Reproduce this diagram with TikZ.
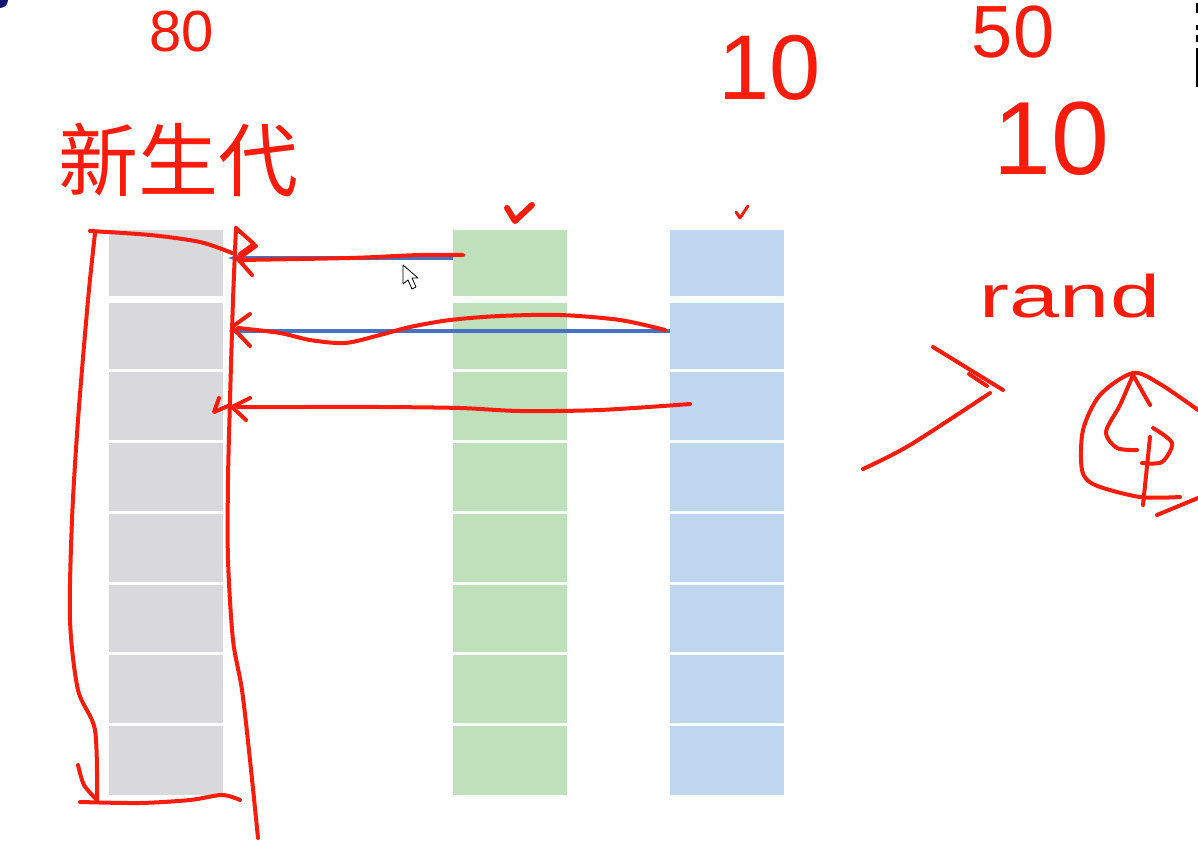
\documentclass[tikz,border=0pt]{standalone}
\usepackage{fontspec}
\setmainfont{Liberation Sans}
\newfontfamily\cjkfont{Noto Sans CJK SC}
\usetikzlibrary{arrows.meta}
\usetikzlibrary{positioning}
\definecolor{penred}{RGB}{250,28,10}
\definecolor{cellgrayc}{RGB}{217,217,219}
\definecolor{cellgreenc}{RGB}{190,224,187}
\definecolor{cellbluec}{RGB}{190,215,238}
\definecolor{arrowblue}{RGB}{68,114,196}
\definecolor{cornernavy}{RGB}{15,20,110}
\tikzset{
  cell/.style={rectangle, inner sep=0pt, minimum width=114pt},
  cellgray/.style={cell, fill=cellgrayc},
  cellgreen/.style={cell, fill=cellgreenc},
  cellblue/.style={cell, fill=cellbluec},
  pen/.style={draw=penred, line width=4pt, line cap=round, line join=round},
  scribble/.style={text=penred, inner sep=0pt},
  copyarrow/.style={draw=arrowblue, line width=3.5pt, -{Stealth[length=13pt,width=9pt]}},
}

\begin{document}
\begin{tikzpicture}[x=1pt, y=-1pt]
    \useasboundingbox[fill=white] (0,0) rectangle (1198,858);

    % the three columns of slots
    \foreach \i/\t/\b in {1/230/296, 2/303/369, 3/372/440, 4/443/511,
                          5/514/582, 6/585/652, 7/655/723, 8/726/795} {
      \pgfmathsetmacro\h{\b-\t}
      \pgfmathsetmacro\m{(\t+\b)/2}
      \node[cellgray,  minimum height=\h pt] (g\i) at (166,\m) {};
      \node[cellgreen, minimum height=\h pt] (n\i) at (510,\m) {};
      \node[cellblue,  minimum height=\h pt] (b\i) at (727,\m) {};
    }

    % copies into the new array
    \draw[copyarrow] ([yshift=5pt]n1.west) -- ([xshift=5pt,yshift=5pt]g1.east);
    \draw[copyarrow] ([yshift=5pt]b2.west) -- ([xshift=5pt,yshift=5pt]g2.east);

    % handwritten labels
    \node[scribble, font=\fontsize{58}{58}\selectfont] (lbleighty) at (182,32) {80};
    \node[scribble, font=\fontsize{80}{80}\cjkfont] (lblyoung) at (178,160) {新生代};
    \node[scribble, font=\fontsize{92}{92}\selectfont] (lblten) at (770,68) {10};
    \node[scribble, font=\fontsize{74}{74}\selectfont] (lblfifty) at (1013,32) {50};
    \node[scribble, font=\fontsize{104}{104}\selectfont] (lbltenb) at (1051,139) {10};
    \node[scribble, font=\fontsize{60}{60}\selectfont] (lblrand) at (1070,296) {\scalebox{1.5}[1]{rand}};

    % bracket round the new array
    \draw[pen] plot[smooth] coordinates {(90,231) (150,235) (200,242) (232,253)};
    \draw[pen] plot[smooth] coordinates {(95,233) (88,300) (78,420) (72,520)
      (70,620) (78,690) (95,730) (97,800)};
    \draw[pen] plot[smooth] coordinates {(78,765) (84,785) (97,800)};
    \draw[pen] plot[smooth] coordinates {(80,802) (140,803) (190,800) (222,795) (240,800)};
    \draw[pen] plot[smooth] coordinates {(236,228) (233,300) (230,400) (228,480)
      (228,560) (233,640) (242,690) (250,760) (258,838)};
    \draw[pen] (236,228) -- (254,244) -- (240,254);

    % red strokes over the copies
    \coordinate (redonestart) at (463,255);
    \coordinate (redoneend) at (240,260);
    \draw[pen] plot[smooth] coordinates {(redonestart) (420,255) (350,258) (redoneend)};
    \draw[pen] (256,246) -- (238,259) -- (252,275);

    \coordinate (redtwostart) at (665,330);
    \coordinate (redtwoend) at (238,328);
    \draw[pen] plot[smooth] coordinates {(redtwostart) (620,320) (560,315) (500,316)
      (450,320) (410,327) (380,335) (345,343) (310,340) (280,333) (redtwoend)};
    \draw[pen] (250,314) -- (232,327) -- (250,346);

    \coordinate (redthreestart) at (690,404);
    \coordinate (redthreeend) at (238,407);
    \draw[pen] plot[smooth] coordinates {(redthreestart) (600,410) (520,411)
      (460,408) (380,407) (300,407) (redthreeend)};
    \draw[pen] (250,398) -- (232,407) -- (246,420);
    \draw[pen] (219,398) -- (214,412) -- (228,406);

    % ticks over the old arrays
    \draw[pen, line width=6pt] (507,208) -- (515,221) -- (532,205);
    \draw[pen, line width=3pt] (736,212) -- (740,218) -- (748,206);

    % the arrow sign and the circled sign
    \draw[pen] plot[smooth] coordinates {(863,469) (910,445) (990,393)};
    \draw[pen] (933,347) -- (1003,390);
    \draw[pen] (969,374) -- (987,386);
    \draw[pen] plot[smooth] coordinates {(1198,410) (1160,384) (1133,373) (1100,395)
      (1083,430) (1082,470) (1095,485) (1140,497) (1180,497)};
    \draw[pen] plot[smooth] coordinates {(1133,375) (1120,405) (1106,432) (1117,448) (1137,450)};
    \draw[pen] (1133,375) -- (1150,405);
    \draw[pen] plot[smooth] coordinates {(1153,428) (1172,443) (1162,462) (1142,463)};
    \draw[pen] (1150,437) -- (1143,505);
    \draw[pen] (1157,515) -- (1198,498);

    % mouse pointer
    \draw[black, fill=white, line width=0.8pt, line join=round]
      (403,265) -- (403,284) -- (408,280) -- (412,289) -- (416,287)
      -- (412,278) -- (418,278) -- cycle;

    % bits of the screen edge
    \fill[cornernavy] (0,0) circle (8);
    \fill[black] (1196,3) rectangle (1198,13);
    \fill[black] (1196,25) rectangle (1198,30);
    \fill[black] (1196,35) rectangle (1198,42);
    \fill[black] (1196,48) rectangle (1198,87);
\end{tikzpicture}
\end{document}
